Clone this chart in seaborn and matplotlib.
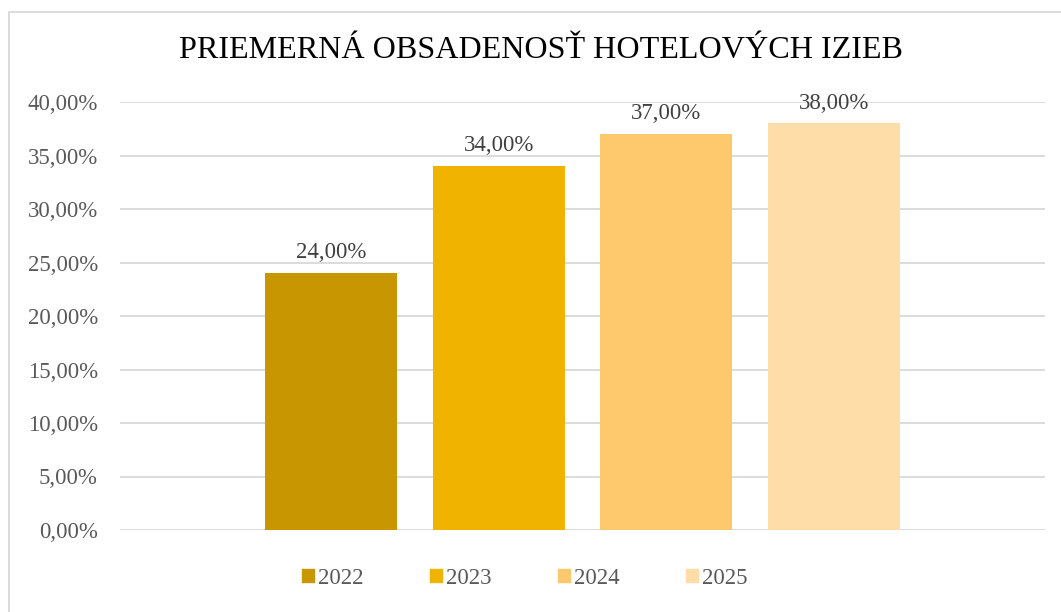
import matplotlib
matplotlib.use("Agg")
import matplotlib.pyplot as plt
import seaborn as sns
import pandas as pd
from matplotlib.patches import Rectangle
from matplotlib.ticker import FuncFormatter

years = ["2022", "2023", "2024", "2025"]
occupancy = [0.24, 0.34, 0.37, 0.38]
colors = ["#C89600", "#F0B400", "#FEC96C", "#FFDDA9"]
yticks = [0.0, 0.05, 0.10, 0.15, 0.20, 0.25, 0.30, 0.35, 0.40]
title = "PRIEMERNÁ OBSADENOSŤ HOTELOVÝCH IZIEB"

df = pd.DataFrame({"rok": years, "obsadenost": occupancy})

sns.set_theme(style="white")
plt.rcParams["font.family"] = ["Liberation Serif", "DejaVu Serif"]

W, H = 1061, 612
fig = plt.figure(figsize=(W / 100, H / 100), dpi=100)
ax = fig.add_axes([120 / W, (H - 530) / H, (1045 - 120) / W, (530 - 102) / H])

sns.barplot(data=df, x="rok", y="obsadenost", hue="rok", palette=colors,
            saturation=1, linewidth=0, edgecolor="none",
            width=0.786, dodge=False, legend=True, ax=ax, zorder=3)

ax.set_ylim(0, 0.40)
ax.set_xlim(-1.256, 3 + 1.256)
ax.set_yticks(yticks)
ax.yaxis.set_major_formatter(FuncFormatter(lambda v, p: f"{v*100:.2f}%".replace(".", ",")))
ax.tick_params(axis="y", labelsize=16.5, labelcolor="#595959", length=0, pad=16)
ax.set_xticks([])
ax.set_xlabel("")
ax.set_ylabel("")
for s in ax.spines.values():
    s.set_visible(False)
ax.grid(axis="y", color="#D9D9D9", linewidth=1.3, zorder=0)
ax.set_axisbelow(True)

for cont in ax.containers:
    ax.bar_label(cont, labels=[f"{v*100:.2f}%".replace(".", ",") for v in cont.datavalues],
                 fontsize=16.5, color="#404040", padding=7)

leg = ax.get_legend()
if leg is not None:
    leg.remove()
handles = [Rectangle((0, 0), 1, 1, color=c) for c in colors]
fig.legend(handles, years, loc="center", bbox_to_anchor=(525 / W, (H - 578) / H),
           ncol=4, frameon=False, fontsize=16.5, labelcolor="#595959",
           handlelength=0.5, handleheight=0.5, handletextpad=0.2, columnspacing=2.9)

fig.text(541 / W, (H - 50) / H, title, ha="center", va="center", fontsize=23.1, color="#000000")

fig.patches.append(Rectangle((9 / W, -0.01), 1.1, (H - 12) / H + 0.01, transform=fig.transFigure,
                             fill=False, edgecolor="#D9D9D9", linewidth=1.3))

fig.savefig("out.png", dpi=100)
